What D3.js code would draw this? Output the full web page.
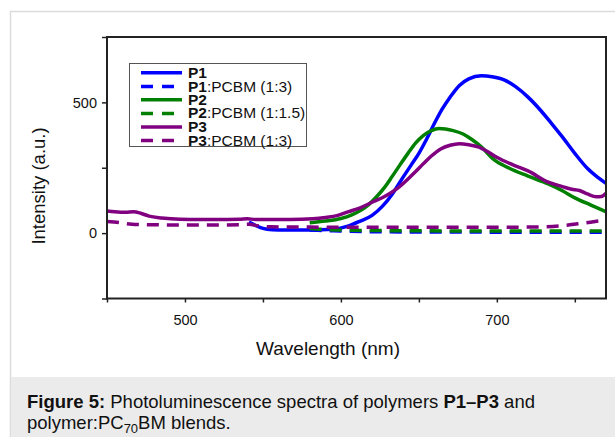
<!DOCTYPE html>
<html>
<head>
<meta charset="utf-8">
<script src="https://cdn.jsdelivr.net/npm/d3@7"></script>
<style>
  html, body { margin: 0; padding: 0; background: #fff; }
  svg { display: block; font-family: "Liberation Sans", Arial, Helvetica, sans-serif; }
</style>
</head>
<body>
<svg id="chart" width="615" height="437"></svg>
<script>
// ---------- data ----------
const p1Wl = [541, 545, 550, 556, 565, 580, 595, 605, 612, 620, 627, 633, 640, 645, 650, 655, 660, 665, 670, 676, 682, 690, 697, 705, 712, 720, 728, 735, 742, 750, 758, 765, 770];
const p1I  = [42, 30, 18, 13, 12, 12, 15, 28, 45, 68, 105, 150, 215, 260, 305, 360, 420, 475, 520, 565, 590, 602, 598, 585, 560, 520, 470, 420, 368, 305, 248, 212, 190];

const p1bWl = [580, 590, 600, 615, 630, 650, 680, 720, 770];
const p1bI  = [12, 10, 8, 6, 5, 4, 4, 3, 3];

const p2Wl = [580, 590, 600, 607, 613, 618, 623, 628, 633, 638, 643, 648, 653, 658, 663, 667, 672, 678, 684, 690, 698, 708, 720, 733, 742, 750, 760, 770];
const p2I  = [40, 46, 56, 70, 88, 110, 140, 175, 218, 262, 305, 345, 374, 392, 400, 398, 392, 380, 358, 330, 282, 248, 218, 188, 162, 135, 108, 82];

const p2bWl = [580, 590, 600, 620, 650, 700, 740, 770];
const p2bI  = [18, 14, 12, 10, 9, 8, 8, 8];

const p3Wl = [450, 455, 462, 467, 472, 477, 485, 497, 510, 520, 535, 540, 545, 560, 575, 582, 590, 598, 605, 612, 620, 628, 636, 643, 648, 653, 658, 664, 670, 676, 682, 688, 694, 700, 710, 720, 733, 742, 748, 753, 758, 764, 767, 770];
const p3I  = [85, 82, 80, 82, 75, 65, 58, 53, 52, 52, 53, 55, 52, 52, 53, 55, 60, 68, 82, 96, 118, 140, 170, 207, 236, 266, 295, 322, 336, 342, 338, 330, 312, 290, 262, 238, 195, 178, 168, 163, 150, 139, 140, 152];

const p3bWl = [450, 458, 466, 480, 500, 520, 535, 541, 547, 555, 580, 620, 680, 720, 745, 752, 760, 770];
const p3bI  = [44, 40, 34, 32, 31, 31, 32, 34, 28, 24, 23, 22, 22, 23, 30, 36, 42, 50];

const seriesNames  = ["P1", "P1:PCBM (1:3)", "P2", "P2:PCBM (1:1.5)", "P3", "P3:PCBM (1:3)"];
const seriesBold   = ["P1", "P1", "P2", "P2", "P3", "P3"];
const seriesColors = ["#0000ff", "#0000ff", "#008000", "#008000", "#800080", "#800080"];
const seriesDashed = [false, true, false, true, false, true];
const seriesWl = [p1Wl, p1bWl, p2Wl, p2bWl, p3Wl, p3bWl];
const seriesI  = [p1I, p1bI, p2I, p2bI, p3I, p3bI];

const xTicks = [450, 500, 550, 600, 650, 700, 750];
const xTickLabels = [500, 600, 700];
const yTicks = [-250, 0, 250, 500, 750];
const yTickLabels = [0, 500];

const xTitle = "Wavelength (nm)";
const yTitle = "Intensity (a.u.)";

// ---------- drawing ----------
const svg = d3.select("#chart");

// card + caption background
svg.append("rect").attr("x", 10.5).attr("y", 11.5).attr("width", 700).attr("height", 500)
  .attr("fill", "#fff").attr("stroke", "#dcdcdc").attr("stroke-width", 1.5);
svg.append("rect").attr("x", 11).attr("y", 377).attr("width", 604).attr("height", 60)
  .attr("fill", "#ebebeb");

const x = d3.scaleLinear().domain([450, 770]).range([107, 606]);
const y = d3.scaleLinear().domain([-250, 750]).range([298.5, 37]);

// series lines
const line = d3.line().curve(d3.curveMonotoneX).x(d => x(d[0])).y(d => y(d[1]));
const plot = svg.append("g");
seriesNames.forEach((name, i) => {
  const pts = seriesWl[i].map((w, j) => [w, seriesI[i][j]]);
  plot.append("path").datum(pts)
    .attr("d", line)
    .attr("fill", "none")
    .attr("stroke", seriesColors[i])
    .attr("stroke-width", 3.5)
    .attr("stroke-dasharray", seriesDashed[i] ? "12,8" : null)
    .attr("stroke-linejoin", "round");
});

// axes
const xAxis = d3.axisBottom(x).tickValues(xTicks).tickSize(4).tickPadding(12)
  .tickFormat(d => xTickLabels.includes(d) ? d : "");
const yAxis = d3.axisLeft(y).tickValues(yTicks).tickSize(5).tickPadding(5)
  .tickFormat(d => yTickLabels.includes(d) ? d : "");

const gx = svg.append("g").attr("transform", `translate(0,${y(-250)})`).call(xAxis);
const gy = svg.append("g").attr("transform", `translate(${x(450)},0)`).call(yAxis);
[gx, gy].forEach(g => {
  g.select(".domain").remove();
  g.selectAll(".tick line").attr("stroke", "#222").attr("stroke-width", 1.5);
  g.selectAll(".tick text").attr("fill", "#111").style("font-size", "14.5px")
    .style("font-family", '"Liberation Sans", Arial, sans-serif');
});

// frame
svg.append("rect")
  .attr("x", x(450)).attr("y", y(750))
  .attr("width", x(770) - x(450)).attr("height", y(-250) - y(750))
  .attr("fill", "none").attr("stroke", "#222").attr("stroke-width", 2);

// axis titles
svg.append("text").attr("x", 328).attr("y", 355).attr("text-anchor", "middle")
  .style("font-size", "19px").attr("fill", "#111").text(xTitle);
svg.append("text").attr("transform", "translate(45,186) rotate(-90)").attr("text-anchor", "middle")
  .style("font-size", "18.5px").attr("fill", "#111").text(yTitle);

// legend
const lg = svg.append("g");
lg.append("rect").attr("x", 129.5).attr("y", 63.5).attr("width", 177).attr("height", 83)
  .attr("fill", "#fff").attr("stroke", "#555").attr("stroke-width", 1);
const rowY = [72.7, 86.5, 99.8, 113.4, 126.9, 140.5];
seriesNames.forEach((name, i) => {
  lg.append("line").attr("x1", 141).attr("x2", 182).attr("y1", rowY[i]).attr("y2", rowY[i])
    .attr("stroke", seriesColors[i]).attr("stroke-width", 3.5)
    .attr("stroke-dasharray", seriesDashed[i] ? "12,9" : null);
  const t = lg.append("text").attr("x", 188).attr("y", rowY[i] + 5)
    .style("font-size", "15.5px").attr("fill", "#111");
  t.append("tspan").attr("font-weight", "bold").text(seriesBold[i]);
  const rest = name.slice(seriesBold[i].length);
  if (rest) t.append("tspan").text(rest);
});

// caption
const cap1 = svg.append("text").attr("x", 27).attr("y", 408).style("font-size", "18.5px").attr("fill", "#111");
cap1.append("tspan").attr("font-weight", "bold").text("Figure 5:");
cap1.append("tspan").text(" Photoluminescence spectra of polymers ");
cap1.append("tspan").attr("font-weight", "bold").text("P1–P3");
cap1.append("tspan").text(" and");
const cap2 = svg.append("text").attr("x", 27).attr("y", 429).style("font-size", "18.5px").attr("fill", "#111");
cap2.append("tspan").text("polymer:PC");
cap2.append("tspan").attr("dy", 4).style("font-size", "13px").text("70");
cap2.append("tspan").attr("dy", -4).text("BM blends.");
</script>
</body>
</html>
